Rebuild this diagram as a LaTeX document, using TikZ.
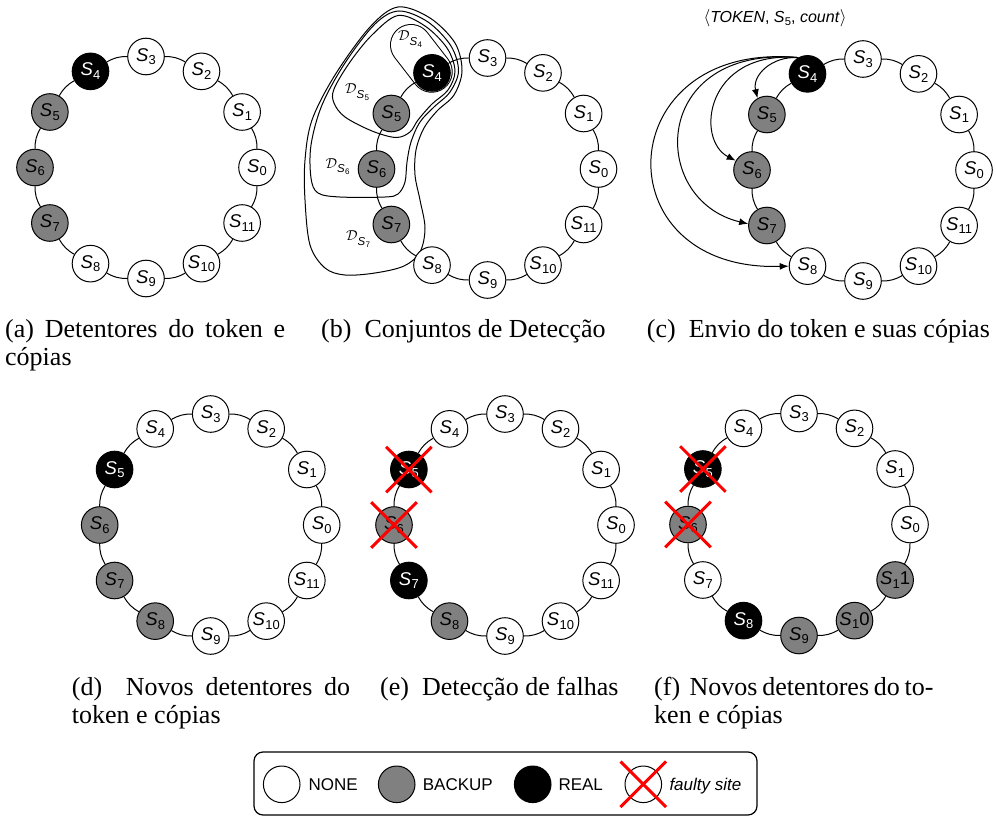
\documentclass[tikz,border=0pt]{standalone}
\usepackage{fontspec}
\setmainfont{Liberation Serif}
\newfontfamily\hv{Liberation Sans}
\usetikzlibrary{arrows.meta}
\definecolor{bkgray}{RGB}{128,128,128}
\newcommand\Ss[1]{\textit{S}\kern0.3pt\raisebox{-0.2em}{\scalebox{0.7}{#1}}}
\newcommand\Dl[1]{$\mathcal{D}$\raisebox{-0.3em}{\hv\fontsize{11.5}{12}\selectfont\Ss{#1}}}
\tikzset{
 site/.style={circle, draw=black, line width=1pt, minimum size=36.6pt, inner sep=0pt, font=\hv\fontsize{18.5}{20}\selectfont},
 stnone/.style={site, fill=white},
 stbackup/.style={site, fill=bkgray},
 streal/.style={site, fill=black, text=white},
 ringedge/.style={line width=1pt},
 faultx/.style={draw=red, line width=3pt},
 dshape/.style={line width=1pt},
 dlabel/.style={font=\fontsize{15}{16}\selectfont, inner sep=0pt},
 tokarrow/.style={line width=1pt, -{Latex[length=9pt,width=7pt]}},
 capt/.style={font=\fontsize{26}{28.5}\selectfont, inner sep=0pt, anchor=base west},
 lgtext/.style={font=\hv\fontsize{17}{19}\selectfont, inner sep=0pt, anchor=base west},
}
\newcommand\ringpanel[4]{%
  \foreach \i/\st/\lab in {#4} {
    \node[\st] (#1\i) at ({#2+111*cos(30*\i)},{#3-111*sin(30*\i)}) {\lab};
  }
  \foreach \i in {0,...,11} {
    \pgfmathtruncatemacro\j{mod(\i+1,12)}
    \draw[ringedge] (#1\i) to[bend right=15] (#1\j);
  }
}
\newcommand\faultcross[1]{%
  \draw[faultx] ([shift={(-22.8,-22.8)}]#1.center) -- ([shift={(22.8,22.8)}]#1.center);
  \draw[faultx] ([shift={(-22.8,22.8)}]#1.center) -- ([shift={(22.8,-22.8)}]#1.center);
}
\begin{document}
\begin{tikzpicture}[x=1pt,y=-1pt]
\useasboundingbox (0,0) rectangle (996,816);

% ---------- (a)
\ringpanel{a}{146}{167.5}{0/stnone/\Ss{0},1/stnone/\Ss{1},2/stnone/\Ss{2},3/stnone/\Ss{3},4/streal/\Ss{4},5/stbackup/\Ss{5},6/stbackup/\Ss{6},7/stbackup/\Ss{7},8/stnone/\Ss{8},9/stnone/\Ss{9},10/stnone/\Ss{10},11/stnone/\Ss{11}}

% ---------- (b) detection sets
\draw[dshape] plot[smooth cycle, tension=0.55] coordinates {(398,7) (430,18) (455,43) (462,71) (454,95) (437,111) (424,128) (416,150) (415,175) (420,200) (425,228) (420,252) (404,266) (375,273) (345,275) (325,268) (310,245) (305,200) (305,160) (312,120) (335,75) (370,27)};
\draw[dshape] plot[smooth cycle, tension=0.55] coordinates {(399,11) (428,22) (451,46) (458.5,71) (450,92) (434,107) (420,122) (411,142) (407,162) (405,182) (398,194) (385,197) (340,197) (318,193) (311,178) (311,145) (322,105) (345,63) (375,24)};
\draw[dshape] plot[smooth cycle, tension=0.55] coordinates {(398,15.5) (425,26) (447,48) (455,71) (448,90) (432,104) (418,120) (410,132) (396,137.5) (372,131) (345,117) (334,103) (334,89) (350,62) (372,35)};
\draw[line width=1pt, double=white, double distance=40pt, line cap=round] (411,45) -- (431.7,71.7);
\ringpanel{b}{487.5}{169}{0/stnone/\Ss{0},1/stnone/\Ss{1},2/stnone/\Ss{2},3/stnone/\Ss{3},4/streal/\Ss{4},5/stbackup/\Ss{5},6/stbackup/\Ss{6},7/stbackup/\Ss{7},8/stnone/\Ss{8},9/stnone/\Ss{9},10/stnone/\Ss{10},11/stnone/\Ss{11}}
\node[dlabel] (ld4) at (410,39) {\Dl{4}};
\node[dlabel] (ld5) at (357,92.5) {\Dl{5}};
\node[dlabel] (ld6) at (337.5,166.7) {\Dl{6}};
\node[dlabel] (ld7) at (358,239) {\Dl{7}};

% ---------- (c)
\ringpanel{c}{863}{170}{0/stnone/\Ss{0},1/stnone/\Ss{1},2/stnone/\Ss{2},3/stnone/\Ss{3},4/streal/\Ss{4},5/stbackup/\Ss{5},6/stbackup/\Ss{6},7/stbackup/\Ss{7},8/stnone/\Ss{8},9/stnone/\Ss{9},10/stnone/\Ss{10},11/stnone/\Ss{11}}
\node[font=\hv\fontsize{16}{18}\selectfont, inner sep=0pt] (tok) at (775,18) {$\langle$\textit{TOKEN}, \Ss{5}, \textit{count}$\rangle$};
\draw[tokarrow] (c4.120) .. controls (772,56) and (752,75) .. (c5.120);
\draw[tokarrow] (c4.120) .. controls (705,50) and (695,140) .. (c6.150);
\draw[tokarrow] (c4.120) .. controls (650,45) and (648,200) .. (c7.175);
\draw[tokarrow] (c4.120) .. controls (610,40) and (600,272) .. (c8.180);

% ---------- (d)
\ringpanel{d}{210.7}{525}{0/stnone/\Ss{0},1/stnone/\Ss{1},2/stnone/\Ss{2},3/stnone/\Ss{3},4/stnone/\Ss{4},5/streal/\Ss{5},6/stbackup/\Ss{6},7/stbackup/\Ss{7},8/stbackup/\Ss{8},9/stnone/\Ss{9},10/stnone/\Ss{10},11/stnone/\Ss{11}}

% ---------- (e)
\ringpanel{e}{505}{525}{0/stnone/\Ss{0},1/stnone/\Ss{1},2/stnone/\Ss{2},3/stnone/\Ss{3},4/stnone/\Ss{4},5/streal/\Ss{5},6/stbackup/\Ss{6},7/streal/\Ss{7},8/stbackup/\Ss{8},9/stnone/\Ss{9},10/stnone/\Ss{10},11/stnone/\Ss{11}}
\faultcross{e5}
\faultcross{e6}

% ---------- (f)
\ringpanel{f}{799}{524.5}{0/stnone/\Ss{0},1/stnone/\Ss{1},2/stnone/\Ss{2},3/stnone/\Ss{3},4/stnone/\Ss{4},5/streal/\Ss{5},6/stbackup/\Ss{6},7/stnone/\Ss{7},8/streal/\Ss{8},9/stbackup/\Ss{9},10/stbackup/{\Ss{1}0},11/stbackup/{\Ss{1}1}}
\faultcross{f5}
\faultcross{f6}

% ---------- captions
\node[capt] (capa1) at (5,337) {\makebox[280pt][s]{(a)\ Detentores do token e}};
\node[capt] (capa2) at (5,365.5) {cópias};
\node[capt] (capb) at (321,337) {(b)\ \ Conjuntos de Detecção};
\node[capt] (capc) at (646.7,337) {(c)\ \ Envio do token e suas cópias};
\node[capt] (capd1) at (71.7,695) {\makebox[278.3pt][s]{(d)\ \ Novos detentores do}};
\node[capt] (capd2) at (71.7,723.5) {token e cópias};
\node[capt] (cape) at (380,695) {(e)\ \ Detecção de falhas};
\node[capt] (capf1) at (654,695) {\makebox[279.3pt][s]{(f)\ \ Novos detentores do to-}};
\node[capt] (capf2) at (654,723.5) {ken e cópias};

% ---------- legend
\draw[line width=1.2pt, rounded corners=9pt] (254,752) rectangle (757,815);
\node[stnone] (lgnone) at (281.7,784.3) {};
\node[lgtext] (lgnonet) at (308.3,790.7) {NONE};
\node[stbackup] (lgbackup) at (396.7,784.3) {};
\node[lgtext] (lgbackupt) at (422.7,790.7) {BACKUP};
\node[streal] (lgreal) at (532.7,784.3) {};
\node[lgtext] (lgrealt) at (558.3,790.7) {REAL};
\node[stnone] (lgfaulty) at (643.3,784.3) {};
\faultcross{lgfaulty}
\node[lgtext] (lgfaultyt) at (669.3,790.7) {\textit{faulty site}};
\end{tikzpicture}
\end{document}
